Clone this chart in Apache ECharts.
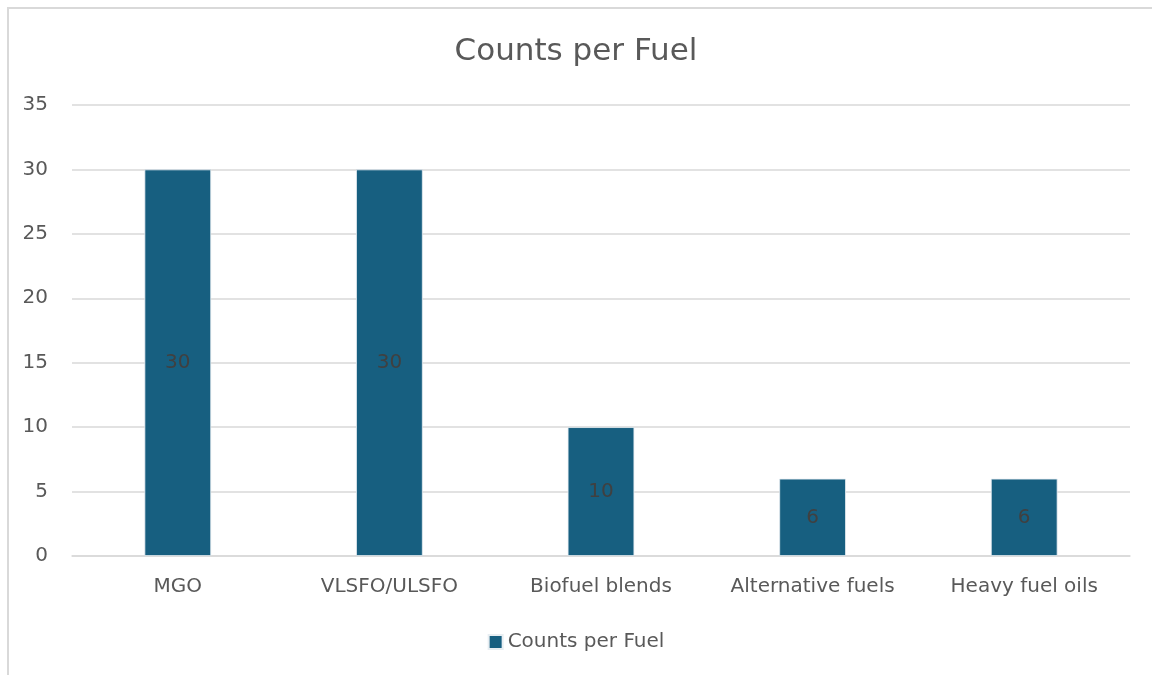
<!DOCTYPE html>
<html>
<head>
<meta charset="utf-8">
<script src="https://cdn.jsdelivr.net/npm/echarts@6/dist/echarts.min.js"></script>
<style>
  html, body { margin: 0; padding: 0; background: #ffffff; }
  #frame { position: absolute; left: 0; top: 0; width: 1152px; height: 675px; overflow: hidden; }
  #edge { position: absolute; left: 7px; top: 7px; width: 1200px; height: 700px;
          border-left: 2px solid #d9d9d9; border-top: 2px solid #d9d9d9; box-sizing: border-box; }
  #chart { position: absolute; left: 0; top: 0; width: 1152px; height: 675px; }
</style>
</head>
<body>
<div id="frame">
  <div id="edge"></div>
  <div id="chart"></div>
</div>
<script>
// Fuel types and how many entries fall under each
const categories = ['MGO', 'VLSFO/ULSFO', 'Biofuel blends', 'Alternative fuels', 'Heavy fuel oils'];
const counts = [30, 30, 10, 6, 6];
const seriesName = 'Counts per Fuel';

const textGray = '#595959';
const fontFamily = '"DejaVu Sans", "Liberation Sans", sans-serif';

const chart = echarts.init(document.getElementById('chart'), null, { renderer: 'canvas' });
chart.setOption({
  backgroundColor: 'transparent',
  animation: false,
  textStyle: { fontFamily: fontFamily },
  title: {
    text: 'Counts per Fuel',
    left: 'center',
    top: 31,
    textStyle: { fontSize: 31, fontWeight: 'normal', color: textGray, fontFamily: fontFamily }
  },
  legend: {
    data: [seriesName],
    left: 'center',
    top: 627,
    icon: 'rect',
    itemWidth: 14,
    itemHeight: 14,
    itemGap: 6,
    textStyle: { fontSize: 20, color: textGray, fontFamily: fontFamily }
  },
  grid: { left: 72, right: 22, top: 105, bottom: 119, containLabel: false },
  xAxis: {
    type: 'category',
    data: categories,
    axisLine: { show: true, lineStyle: { color: '#d9d9d9', width: 1.5 } },
    axisTick: { show: false },
    axisLabel: { color: textGray, fontSize: 20, margin: 21, interval: 0, hideOverlap: false, fontFamily: fontFamily }
  },
  yAxis: {
    type: 'value',
    min: 0,
    max: 35,
    interval: 5,
    axisLine: { show: false },
    axisTick: { show: false },
    splitLine: { lineStyle: { color: '#d9d9d9', width: 1.5 } },
    axisLabel: { color: textGray, fontSize: 20, margin: 24, fontFamily: fontFamily }
  },
  series: [{
    name: seriesName,
    type: 'bar',
    data: counts,
    barWidth: '31.5%',
    itemStyle: { color: '#175f80', borderColor: '#e8eef2', borderWidth: 0.8 },
    label: {
      show: true,
      position: 'inside',
      color: '#404040',
      fontSize: 20,
      fontFamily: fontFamily
    }
  }]
});
</script>
</body>
</html>
